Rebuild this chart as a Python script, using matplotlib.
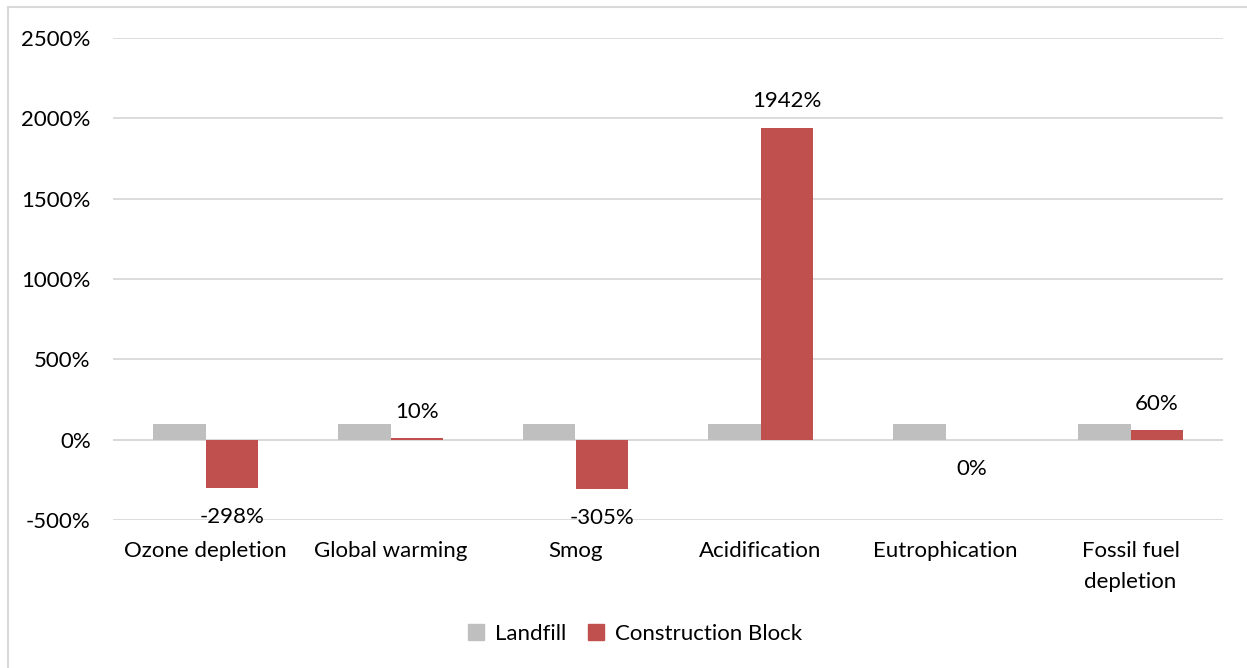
import matplotlib
matplotlib.use("Agg")
import matplotlib.pyplot as plt
import numpy as np
from matplotlib.ticker import FuncFormatter
from matplotlib.lines import Line2D

categories = ["Ozone depletion", "Global warming", "Smog", "Acidification",
              "Eutrophication", "Fossil fuel\ndepletion"]
landfill = [100, 100, 100, 100, 100, 100]
construction_block = [-298, 10, -305, 1942, 0, 60]
yticks = [-500, 0, 500, 1000, 1500, 2000, 2500]

plt.rcParams['font.family'] = ['Lato', 'DejaVu Sans']
FS = 16
W, H = 1247, 668
fig = plt.figure(figsize=(W / 100, H / 100), dpi=100)
ax = fig.add_axes([113 / W, 1 - 520 / H, (1223 - 113) / W, (520 - 38) / H])

x = np.arange(len(categories))
bw = 0.286
gray = "#BFBFBF"
red = "#C0504D"
ax.bar(x - bw / 2, landfill, width=bw, color=gray, label="Landfill", zorder=3)
ax.bar(x + bw / 2, construction_block, width=bw, color=red, label="Construction Block", zorder=3)

for xi, v in zip(x, construction_block):
    if v > 0:
        ax.annotate(f"{v}%", (xi + bw / 2, v), xytext=(0, 19), textcoords="offset points",
                    ha="center", va="center", fontsize=FS, color="#000000")
    else:
        ax.annotate(f"{v}%", (xi + bw / 2, v), xytext=(0, -21), textcoords="offset points",
                    ha="center", va="center", fontsize=FS, color="#000000")

ax.set_xlim(-0.5, len(categories) - 0.5)
ax.set_ylim(-500, 2500)
ax.set_yticks(yticks)
ax.yaxis.set_major_formatter(FuncFormatter(lambda v, p: f"{int(v)}%"))
ax.set_xticks(x)
ax.set_xticklabels(categories, fontsize=FS, linespacing=1.7)
ax.tick_params(axis="both", length=0, labelsize=FS, colors="#000000")
ax.tick_params(axis="y", pad=16)
ax.tick_params(axis="x", pad=15)
ax.grid(axis="y", color="#D9D9D9", linewidth=1.3, zorder=0)
ax.axhline(0, color="#D9D9D9", linewidth=1.3, zorder=2)
for s in ax.spines.values():
    s.set_visible(False)

handles = [plt.Rectangle((0, 0), 1, 1, color=gray), plt.Rectangle((0, 0), 1, 1, color=red)]
fig.legend(handles, ["Landfill", "Construction Block"], loc="center",
           bbox_to_anchor=(635 / W, 1 - 634 / H), ncol=2, frameon=False, fontsize=FS,
           handlelength=0.7, handleheight=0.7, handletextpad=0.5, columnspacing=1.0)

# chart border (top and left visible)
fig.add_artist(Line2D([8 / W, 8 / W], [0, 1 - 7 / H], color="#D9D9D9", linewidth=1.5, transform=fig.transFigure))
fig.add_artist(Line2D([8 / W, 1], [1 - 7 / H, 1 - 7 / H], color="#D9D9D9", linewidth=1.5, transform=fig.transFigure))

fig.savefig("out.png", dpi=100)
